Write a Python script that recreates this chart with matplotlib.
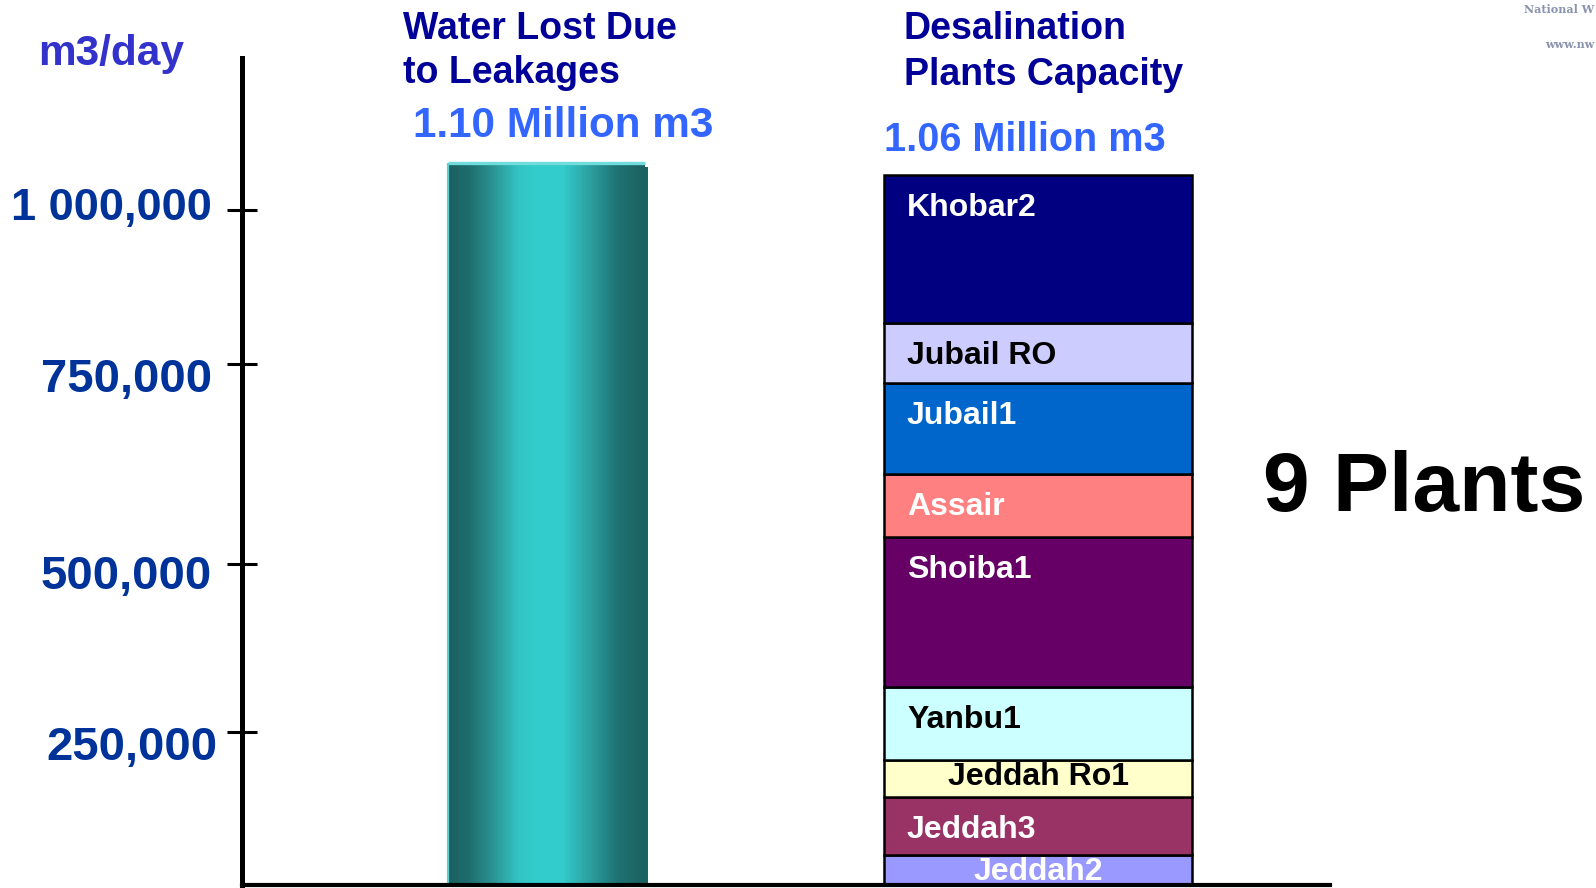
import numpy as np
import matplotlib
matplotlib.use("Agg")
import matplotlib.pyplot as plt
from matplotlib.colors import LinearSegmentedColormap
from matplotlib.transforms import blended_transform_factory

# ---------------- data ----------------
leak_label = "Water Lost Due to Leakages"
leak_value = 1077000

plant_names = ["Jeddah2", "Jeddah3", "Jeddah Ro1", "Yanbu1", "Shoiba1",
               "Assair", "Jubail1", "Jubail RO", "Khobar2"]
plant_values = [49000, 94000, 62000, 112000, 217000, 78000, 114500, 90500, 240000]

ytick_values = [250000, 500000, 750000, 1000000]
ytick_labels = ["250,000", "500,000", "750,000", "1 000,000"]

# ---------------- styles ----------------
plant_colors = ["#9999ff", "#993366", "#ffffcc", "#ccffff", "#660066",
                "#ff8080", "#0066cc", "#ccccff", "#000080"]
plant_text_colors = ["white", "white", "black", "black", "white",
                     "white", "white", "black", "white"]
# hand-drawn (non-linear) value axis of the original slide
scale_values = [0, 250000, 500000, 750000, 1000000, 1500000]
scale_positions = [0, 153, 321, 521, 675, 983]
# tick-label placement (pixels): x offset, baseline drop below tick, size
tick_label_dx = [-25, -30, -30, -30]
tick_label_dy = [28, 25, 28, 10]
tick_label_size = [34, 34, 34, 32.5]

FONT = ["Liberation Sans", "DejaVu Sans"]
W, H = 1596, 888


def fwd(v):
    return np.interp(v, scale_values, scale_positions)


def inv(p):
    return np.interp(p, scale_positions, scale_values)


fig = plt.figure(figsize=(W / 100, H / 100), dpi=100)
fig.patch.set_facecolor("white")

ax_left, ax_right, ax_base, ax_top = 242, 1330, 885, 58
ax = fig.add_axes([ax_left / W, (H - ax_base) / H,
                   (ax_right - ax_left) / W, (ax_base - ax_top) / H])
ax.set_yscale("function", functions=(fwd, inv))
ax.set_ylim(0, inv(ax_base - ax_top))

unit = 491.5  # pixels between the two bar centres
x_leak, x_plants = 0, 1
w_leak, w_plants = 197 / unit, 308 / unit
ax.set_xlim(-(546.5 - ax_left) / unit, 1 + (ax_right - 1038) / unit)

# ---------------- teal cylinder-like bar ----------------
cmap = LinearSegmentedColormap.from_list("teal", [
    (0.00, "#1b6060"), (0.10, "#1e6c6c"), (0.22, "#2a9191"),
    (0.36, "#33c4c4"), (0.45, "#33cccc"), (0.58, "#33cccc"),
    (0.72, "#2ba0a0"), (0.86, "#1f7373"), (1.00, "#1b6060")])

x0, x1 = x_leak - w_leak / 2, x_leak + w_leak / 2
shadow_dx = 3 / unit
ax.bar(x_leak + shadow_dx, inv(fwd(leak_value) - 4), width=w_leak,
       color="#1b6262", linewidth=0, zorder=1)
N = 160
edges = np.linspace(x0, x1, N + 1)
centres = (edges[:-1] + edges[1:]) / 2
ax.bar(centres, [leak_value] * N, width=(x1 - x0) / N * 1.05,
       color=cmap(np.linspace(0, 1, N)), linewidth=0, zorder=2)
ax.plot([x0, x1], [leak_value, leak_value], color="#70dcdc", lw=2.4,
        solid_capstyle="butt", zorder=3)
ax.plot([x0, x0], [0, leak_value], color="#5fcfcf", lw=1.6,
        solid_capstyle="butt", zorder=3)

# ---------------- stacked plants bar ----------------
bottoms = np.concatenate([[0], np.cumsum(plant_values)[:-1]])
ax.bar([x_plants] * len(plant_values), plant_values, bottom=bottoms,
       width=w_plants, color=plant_colors, edgecolor="black",
       linewidth=1.8, zorder=2)

bar_left = x_plants - w_plants / 2
for name, b, v, tc in zip(plant_names, bottoms, plant_values, plant_text_colors):
    top = b + v
    hpx = ax.transData.transform((0, top))[1] - ax.transData.transform((0, b))[1]
    if hpx < 50:
        ax.annotate(name, xy=(x_plants, top), xytext=(0, -25),
                    textcoords="offset pixels", ha="center", va="baseline",
                    fontsize=23, fontweight="bold", color=tc, family=FONT,
                    zorder=5)
    else:
        ax.annotate(name, xy=(bar_left, top), xytext=(23, -41),
                    textcoords="offset pixels", ha="left", va="baseline",
                    fontsize=23, fontweight="bold", color=tc, family=FONT,
                    zorder=5)

# ---------------- axes styling ----------------
for s in ["top", "right"]:
    ax.spines[s].set_visible(False)
ax.spines["left"].set_linewidth(3.6)
ax.spines["bottom"].set_linewidth(3.0)
ax.spines["left"].set_zorder(6)
ax.spines["bottom"].set_zorder(6)
ax.set_xticks([])
ax.set_yticks(ytick_values)
ax.set_yticklabels([])
ax.yaxis.set_minor_locator(matplotlib.ticker.NullLocator())
ax.tick_params(axis="y", direction="inout", length=21, width=2.2, color="black")
ax.patch.set_visible(False)

trans = blended_transform_factory(ax.transAxes, ax.transData)
for v, lab, dx, dy, fs in zip(ytick_values, ytick_labels, tick_label_dx,
                              tick_label_dy, tick_label_size):
    ax.annotate(lab, xy=(0, v), xycoords=trans, xytext=(dx, -dy),
                textcoords="offset pixels", ha="right", va="baseline",
                fontsize=fs, fontweight="bold", color="#003399", family=FONT,
                annotation_clip=False)


# ---------------- free text ----------------
def ftext(x, y, s, **kw):
    fig.text(x / W, 1 - y / H, s, ha="left", va="baseline", family=FONT,
             fontweight="bold", **kw)


ftext(38, 65, "m3/day", fontsize=30.5, color="#3333cc")
ftext(403, 39, "Water Lost Due", fontsize=27, color="#000099")
ftext(403, 83, "to Leakages", fontsize=27, color="#000099")
ftext(413, 137, "1.10 Million m3", fontsize=30.4, color="#3366ff")
ftext(904, 39, "Desalination", fontsize=27, color="#000099")
ftext(904, 85, "Plants Capacity", fontsize=27, color="#000099")
ftext(884, 151, "1.06 Million m3", fontsize=28.5, color="#3366ff")
ftext(1263, 511, "9 Plants", fontsize=60.5, color="black")

# faint logo text at the top-right corner
fig.text(1594 / W, 1 - 13 / H, "National W", fontsize=8, family="DejaVu Serif",
         fontweight="bold", color="#2a3a6a", alpha=0.55, ha="right", va="baseline")
fig.text(1594 / W, 1 - 48 / H, "www.nw", fontsize=8, family="DejaVu Serif",
         fontweight="bold", color="#2a3a6a", alpha=0.55, ha="right", va="baseline")

fig.savefig("out.png", dpi=100, facecolor="white")
